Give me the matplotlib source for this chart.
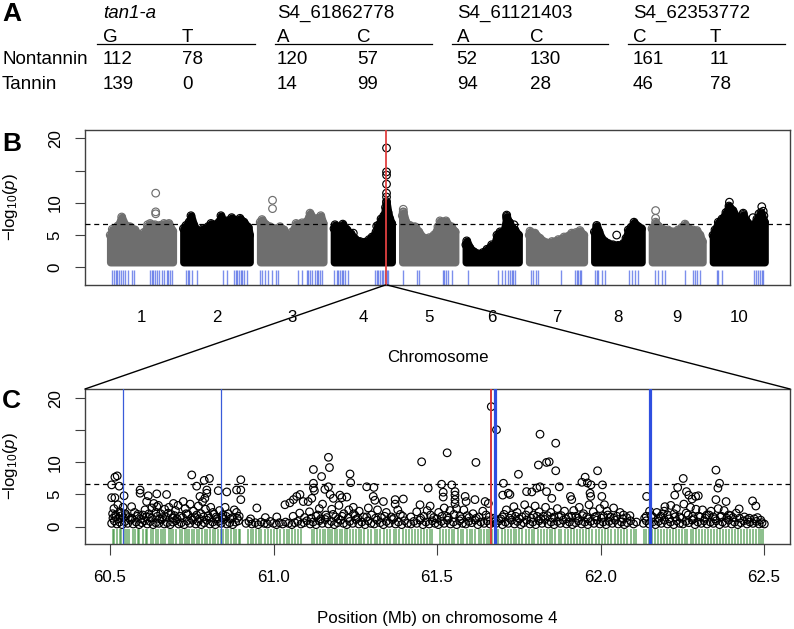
import numpy as np
import matplotlib
matplotlib.use('Agg')
import matplotlib.pyplot as plt
from matplotlib.lines import Line2D
from matplotlib.patches import ConnectionPatch

plt.rcParams['font.family'] = ['Liberation Sans', 'DejaVu Sans']
plt.rcParams['mathtext.fontset'] = 'custom'
plt.rcParams['mathtext.rm'] = 'Liberation Sans'
plt.rcParams['mathtext.it'] = 'Liberation Sans:italic'

# ---------------- Panel A data ----------------
snp_names = ['tan1-a', 'S4_61862778', 'S4_61121403', 'S4_62353772']
allele_1 = ['G', 'A', 'A', 'C']
allele_2 = ['T', 'C', 'C', 'T']
nontannin_1 = [112, 120, 52, 161]
nontannin_2 = [78, 57, 130, 11]
tannin_1 = [139, 14, 94, 46]
tannin_2 = [0, 99, 28, 78]
row_labels = ['Nontannin', 'Tannin']

# ---------------- Panel B data ----------------
chrom_names = ['1', '2', '3', '4', '5', '6', '7', '8', '9', '10']
chrom_len = [73.8, 77.9, 74.4, 68.0, 62.4, 62.2, 64.3, 55.5, 59.4, 60.9]
p_floor = 0.8
threshold = 6.7
candidate_chr4 = 61.67

env1_x = [0.3, 2.7, 6.0, 9.0, 13.7, 17.6, 23.4, 29.3, 33.0, 36.0, 39.5, 44.0, 47.0, 52.7, 58.5, 63.2, 69.0, 73.5]
env1_y = [5.0, 5.9, 5.2, 6.4, 7.8, 6.6, 6.3, 5.8, 5.0, 4.6, 5.4, 6.3, 6.8, 6.6, 6.5, 6.8, 6.8, 5.6]
env2_x = [0.2, 3.2, 6.7, 9.0, 12.5, 17.2, 23.1, 28.9, 32.4, 37.1, 41.8, 44.1, 47.7, 51.2, 56.7, 61.8, 66.4, 71.1, 76.1, 77.6]
env2_y = [6.0, 6.5, 7.0, 8.0, 6.5, 5.5, 6.0, 6.3, 6.8, 6.6, 7.0, 8.0, 7.0, 7.2, 7.7, 7.2, 7.6, 7.0, 6.2, 5.0]
env3_x = [0.2, 2.3, 7.0, 11.7, 18.7, 23.4, 28.1, 32.8, 37.5, 42.2, 49.2, 53.9, 58.5, 63.2, 67.9, 71.1, 74.0]
env3_y = [7.0, 7.4, 6.6, 6.3, 6.0, 6.3, 5.8, 4.5, 5.5, 6.8, 6.9, 7.0, 8.4, 7.5, 7.6, 8.0, 6.8]
env4_x = [0.2, 1.4, 6.1, 10.5, 15.5, 20.1, 24.8, 30.7, 36.5, 41.2, 44.7, 49.4, 51.8, 55.3, 58.5, 60.5, 61.7, 63.5, 65.5, 67.7]
env4_y = [6.0, 6.6, 6.2, 6.7, 5.8, 5.2, 4.4, 4.0, 3.9, 4.3, 4.7, 5.5, 6.5, 7.5, 8.0, 9.3, 10.0, 8.5, 7.5, 6.8]
env5_x = [0.2, 1.3, 4.4, 9.1, 14.9, 19.6, 24.7, 31.7, 37.2, 41.9, 44.3, 51.3, 54.6, 57.8, 62.0]
env5_y = [8.0, 8.5, 7.0, 6.5, 6.3, 5.5, 4.6, 4.6, 5.0, 6.3, 7.2, 7.2, 6.5, 6.3, 5.5]
env6_x = [0.2, 1.2, 5.0, 9.7, 14.4, 20.3, 24.9, 30.4, 33.1, 36.6, 40.2, 44.8, 48.0, 50.6, 54.1, 57.6, 61.9]
env6_y = [3.5, 4.1, 3.0, 2.4, 2.1, 2.3, 2.8, 3.5, 3.3, 5.0, 5.5, 5.6, 7.9, 7.0, 6.2, 5.8, 5.0]
env7_x = [0.2, 1.1, 6.9, 12.8, 20.6, 26.8, 34.2, 40.9, 49.9, 54.9, 59.6, 64.1]
env7_y = [5.0, 5.6, 5.3, 4.5, 3.8, 4.0, 4.3, 4.7, 5.3, 5.4, 5.7, 5.0]
env8_x = [0.2, 2.9, 5.6, 8.7, 12.6, 16.5, 22.0, 27.9, 34.1, 37.2, 39.9, 43.1, 46.6, 51.6, 55.3]
env8_y = [5.5, 6.5, 5.5, 4.5, 4.0, 3.7, 3.5, 3.4, 3.7, 4.5, 5.8, 6.2, 7.0, 6.3, 6.0]
env9_x = [0.2, 4.4, 8.3, 13.0, 18.9, 24.7, 30.6, 35.2, 38.8, 43.4, 48.1, 52.8, 56.3, 59.2]
env9_y = [6.0, 7.0, 6.3, 5.9, 5.8, 5.5, 5.8, 6.2, 6.7, 6.0, 5.8, 5.7, 5.0, 4.0]
env10_x = [0.2, 2.5, 6.4, 10.7, 15.3, 18.9, 23.5, 27.9, 31.7, 35.6, 40.0, 43.4, 47.0, 51.6, 56.3, 60.5]
env10_y = [5.0, 5.8, 7.0, 7.5, 8.5, 9.5, 8.8, 7.8, 7.5, 8.2, 7.0, 6.2, 6.5, 7.5, 8.5, 7.0]

out1 = ([53.5, 53.5, 53.5, 13.7, 44.0], [11.5, 8.6, 8.3, 7.2, 6.6])
out2 = ([9.0, 44.1, 56.7], [7.4, 7.3, 7.1])
out3 = ([14.6, 14.6, 58.5, 71.1], [10.4, 9.1, 7.9, 7.5])
out4 = ([61.7, 61.7, 61.7, 61.7, 61.7, 61.7, 61.7, 22.8, 50.2, 1.4], [18.5, 14.8, 14.3, 12.9, 11.5, 10.9, 10.2, 5.3, 6.4, 6.0])
out5 = ([1.3, 1.3, 16.0, 44.3, 51.3], [9.0, 8.6, 6.2, 6.7, 6.7])
out6 = ([48.0, 48.0, 51.6, 56.6, 1.2], [8.1, 7.6, 6.9, 6.6, 3.6])
out7 = ([1.1, 59.6], [5.1, 5.2])
out8 = ([2.9, 2.9, 26.3, 46.6], [6.1, 5.7, 5.0, 6.5])
out9 = ([4.4, 4.4, 38.8], [8.8, 7.6, 6.3])
out10 = ([19.4, 19.4, 35.6, 47.0, 54.0, 57.3, 59.0, 59.8], [10.1, 9.3, 8.4, 7.7, 8.3, 9.4, 8.7, 8.0])

rug1 = [2.7, 4.7, 6.7, 8.5, 10.9, 12.9, 15.6, 17.6, 20.7, 25.4, 28.1, 46.8, 48.8, 50.7, 52.7, 54.7, 57.4, 60.5, 63.6, 66.4, 68.3, 70.3, 72.9]
rug2 = [3.2, 5.2, 7.0, 9.8, 15.7, 46.8, 50.8, 59.4, 61.4, 63.2, 65.2, 67.2, 69.1, 71.4, 74.2]
rug3 = [0.5, 2.3, 5.9, 9.4, 14.1, 18.7, 21.1, 44.8, 48.8, 54.7, 56.6, 58.5, 60.5, 64.4, 66.4, 68.3, 70.3, 72.9]
rug4 = [0.2, 3.4, 5.3, 7.3, 9.3, 11.1, 13.1, 17.0, 48.2, 50.2, 52.1, 54.0, 56.0, 57.9, 59.9, 61.8, 63.8]
rug5 = [1.3, 17.7, 20.0, 47.4, 48.9, 51.3, 54.0, 58.0]
rug6 = [3.0, 38.2, 42.2, 46.0, 49.9, 51.9, 53.9, 55.7, 57.7]
rug7 = [1.9, 4.9, 8.1, 10.8, 37.4, 53.7, 55.7, 57.6, 59.6, 60.8]
rug8 = [0.9, 2.9, 4.8, 8.8, 12.6, 40.7, 43.9, 47.8, 51.6]
rug9 = [3.6, 7.5, 11.5, 15.3, 38.8, 48.5, 50.5, 52.5, 56.3]
rug10 = [4.4, 6.3, 10.3, 48.5, 50.5, 52.5, 55.2, 57.1, 59.0]

# ---------------- Panel C data ----------------
c_xticks = [60.5, 61.0, 61.5, 62.0, 62.5]
c_blue_thin = [60.541, 60.838]
c_blue_thick = [61.678, 62.150]
c_red = [61.665]

c_high = [(60.505, 6.5), (60.515, 7.7), (60.522, 7.9), (60.528, 6.3), (60.505, 4.5), (60.515, 4.5),
          (60.543, 4.8), (60.566, 3.1), (60.592, 5.7), (60.592, 5.2), (60.617, 4.8), (60.643, 5.1),
          (60.673, 5.0), (60.612, 3.9), (60.643, 3.1), (60.694, 3.6), (60.724, 3.9), (60.750, 8.05),
          (60.765, 6.3), (60.788, 7.2), (60.804, 7.5), (60.796, 5.7), (60.796, 5.2), (60.775, 4.7),
          (60.790, 4.4), (60.831, 5.6), (60.857, 5.4), (60.887, 5.7), (60.900, 5.7), (60.900, 7.3),
          (60.900, 4.2), (60.887, 2.2), (60.949, 2.9), (61.010, 1.5), (61.035, 3.4), (61.050, 3.7),
          (61.061, 4.2), (61.071, 4.7), (61.081, 5.0), (61.091, 3.9), (61.106, 3.9), (61.117, 4.4),
          (61.122, 8.9), (61.122, 6.75), (61.122, 6.0), (61.125, 5.6), (61.168, 10.8), (61.171, 9.2),
          (61.147, 7.8), (61.168, 6.2), (61.157, 5.8), (61.173, 5.0), (61.183, 4.4), (61.203, 4.9),
          (61.209, 4.5), (61.224, 4.6), (61.234, 8.2), (61.236, 6.85), (61.244, 3.0), (61.285, 6.2),
          (61.307, 6.1), (61.305, 4.7), (61.310, 4.1), (61.336, 3.9), (61.372, 4.2), (61.372, 3.5),
          (61.397, 4.3), (61.453, 10.1), (61.473, 6.0), (61.448, 3.4), (61.479, 3.2), (61.514, 6.6),
          (61.519, 5.35), (61.519, 4.6), (61.531, 11.5), (61.545, 6.5), (61.555, 5.45), (61.555, 4.9),
          (61.555, 4.2), (61.555, 3.6), (61.586, 4.7), (61.589, 3.9), (61.616, 4.2), (61.619, 10.0),
          (61.647, 3.9), (61.657, 3.6), (61.666, 18.7), (61.682, 15.1), (61.703, 6.75), (61.701, 4.9),
          (61.718, 5.2), (61.723, 5.0), (61.749, 8.15), (61.774, 5.45), (61.790, 5.4), (61.810, 9.6),
          (61.815, 14.4), (61.835, 10.0), (61.843, 10.1), (61.863, 13.0), (61.863, 8.7), (61.815, 6.2),
          (61.805, 6.0), (61.835, 5.45), (61.851, 4.4), (61.874, 6.2), (61.908, 4.7), (61.912, 4.2),
          (61.943, 6.9), (61.953, 7.7), (61.960, 6.8), (61.971, 6.5), (61.991, 8.7), (62.006, 6.5),
          (61.968, 5.2), (61.970, 4.7), (62.004, 4.7), (62.012, 3.4), (62.040, 2.9), (62.070, 1.8),
          (62.141, 4.7), (62.197, 3.1), (62.227, 4.9), (62.236, 6.1), (62.253, 7.5), (62.263, 5.45),
          (62.270, 4.9), (62.280, 4.3), (62.291, 4.7), (62.299, 4.8), (62.353, 8.8), (62.364, 6.75),
          (62.359, 6.0), (62.353, 4.2), (62.384, 3.9), (62.424, 2.75), (62.465, 4.0), (62.475, 3.2),
          (62.501, 0.4)]

c_mid = [(60.508, 2.0), (60.512, 2.8), (60.518, 1.5), (60.524, 3.4), (60.530, 2.3), (60.536, 1.7),
         (60.540, 3.0), (60.547, 2.0), (60.556, 1.4), (60.575, 2.2), (60.583, 1.6), (60.600, 1.8),
         (60.607, 2.6), (60.620, 1.5), (60.628, 2.9), (60.634, 3.6), (60.640, 2.2), (60.648, 3.3),
         (60.655, 2.0), (60.661, 1.4), (60.667, 2.7), (60.680, 3.0), (60.687, 1.9), (60.700, 2.5),
         (60.708, 3.3), (60.715, 1.6), (60.730, 2.8), (60.738, 1.9), (60.745, 3.5), (60.755, 2.4),
         (60.760, 1.5), (60.770, 3.2), (60.778, 2.0), (60.783, 3.9), (60.792, 2.7), (60.800, 1.7),
         (60.808, 3.0), (60.815, 2.2), (60.825, 1.5), (60.835, 2.5), (60.845, 1.8), (60.852, 3.0),
         (60.862, 2.0), (60.875, 1.4), (60.880, 2.6), (60.895, 1.6),
         (60.930, 1.2), (60.975, 1.4), (61.060, 1.6), (61.080, 2.1), (61.095, 1.4), (61.110, 2.3),
         (61.130, 1.6), (61.140, 2.8), (61.150, 3.5), (61.160, 1.8), (61.178, 2.7), (61.190, 1.5),
         (61.200, 3.3), (61.215, 2.0), (61.230, 2.6), (61.250, 1.7), (61.262, 2.4), (61.275, 1.5),
         (61.290, 2.9), (61.300, 1.8), (61.318, 2.6), (61.330, 1.4), (61.345, 2.2), (61.360, 1.5),
         (61.380, 2.6), (61.395, 1.6),
         (61.420, 1.5), (61.438, 2.3), (61.460, 1.6), (61.470, 2.5), (61.490, 1.4), (61.505, 2.2),
         (61.522, 2.9), (61.530, 1.6), (61.540, 2.5), (61.560, 2.8), (61.570, 1.6), (61.582, 2.6),
         (61.598, 1.4), (61.610, 2.0), (61.628, 1.5), (61.640, 2.4), (61.660, 1.5),
         (61.700, 1.5), (61.712, 2.6), (61.728, 1.8), (61.735, 3.1), (61.745, 2.2), (61.760, 1.5),
         (61.768, 3.4), (61.780, 2.5), (61.795, 1.8), (61.800, 3.2), (61.812, 2.3), (61.825, 1.6),
         (61.832, 3.0), (61.848, 2.2), (61.858, 1.5), (61.868, 2.8), (61.880, 1.7), (61.890, 2.4),
         (61.902, 1.5), (61.918, 2.5), (61.925, 1.6), (61.935, 3.0), (61.948, 2.0), (61.958, 1.5),
         (61.965, 3.4), (61.978, 2.3), (61.988, 1.6), (61.998, 2.8), (62.010, 1.6), (62.020, 2.4),
         (62.030, 1.5), (62.050, 1.6), (62.060, 2.2), (62.080, 1.4), (62.090, 1.7),
         (62.140, 1.6), (62.150, 2.4), (62.160, 1.5), (62.172, 2.2), (62.185, 1.6), (62.195, 2.4),
         (62.205, 1.8), (62.215, 3.3), (62.225, 2.0), (62.232, 2.8), (62.242, 1.5), (62.255, 3.5),
         (62.262, 2.1), (62.275, 3.0), (62.282, 1.6), (62.292, 2.7), (62.305, 1.5), (62.312, 2.6),
         (62.325, 1.8), (62.338, 2.4), (62.345, 1.5), (62.360, 2.8), (62.370, 1.6), (62.378, 2.5),
         (62.392, 1.8), (62.405, 1.4), (62.415, 2.1), (62.440, 1.5), (62.455, 1.3), (62.480, 1.4)]

c_low_1 = [(60.505, 0.5), (60.513, 0.9), (60.521, 0.4), (60.529, 0.7), (60.537, 0.3), (60.546, 0.8),
           (60.554, 0.5), (60.563, 1.0), (60.571, 0.4), (60.580, 0.7), (60.589, 0.3), (60.597, 0.6),
           (60.606, 0.9), (60.614, 0.4), (60.623, 0.8), (60.632, 0.3), (60.640, 0.6), (60.649, 0.5),
           (60.658, 1.1), (60.666, 0.4), (60.675, 0.6), (60.684, 0.3), (60.692, 0.7), (60.701, 0.9),
           (60.710, 0.4), (60.718, 0.6), (60.727, 0.3), (60.736, 0.9), (60.744, 0.5), (60.753, 1.0),
           (60.762, 0.4), (60.770, 0.8), (60.779, 0.3), (60.788, 0.6), (60.796, 1.0), (60.805, 0.4),
           (60.814, 0.7), (60.822, 0.3), (60.831, 0.8), (60.840, 0.5), (60.848, 1.1), (60.857, 0.4),
           (60.866, 0.6), (60.875, 0.3), (60.884, 0.7), (60.893, 0.9)]
c_low_2 = [(60.916, 0.5), (60.925, 0.8), (60.934, 0.4), (60.944, 0.6), (60.953, 0.3), (60.962, 0.7),
           (60.972, 0.5), (60.981, 0.4), (60.990, 0.8), (61.000, 0.5), (61.009, 0.3), (61.018, 0.6),
           (61.028, 0.4), (61.037, 0.7), (61.046, 0.5), (61.056, 0.3), (61.065, 0.6), (61.074, 0.8),
           (61.084, 0.4), (61.093, 0.6), (61.102, 0.9), (61.112, 0.4), (61.121, 0.7), (61.130, 0.3),
           (61.140, 0.9), (61.149, 0.5), (61.158, 1.1), (61.168, 0.4), (61.177, 0.8), (61.186, 0.3),
           (61.196, 0.6), (61.205, 1.0), (61.214, 0.5), (61.224, 0.3), (61.233, 0.8), (61.242, 0.5),
           (61.252, 1.1), (61.261, 0.4), (61.270, 0.7), (61.280, 0.3), (61.289, 0.9), (61.298, 0.5),
           (61.308, 0.4), (61.317, 1.0), (61.326, 0.6), (61.336, 0.3), (61.345, 0.8), (61.354, 0.5),
           (61.364, 1.1), (61.373, 0.4), (61.382, 0.7), (61.392, 0.3), (61.401, 0.9), (61.410, 0.5),
           (61.420, 0.4), (61.429, 0.8), (61.438, 0.5), (61.448, 1.0), (61.457, 0.3), (61.466, 0.7),
           (61.476, 0.4), (61.485, 0.9), (61.494, 0.5), (61.504, 0.3), (61.513, 0.8), (61.522, 0.5),
           (61.532, 1.0), (61.541, 0.4), (61.550, 0.7), (61.560, 0.3), (61.569, 0.9), (61.578, 0.5),
           (61.588, 0.4), (61.597, 0.8), (61.606, 0.6), (61.616, 1.0), (61.625, 0.3), (61.634, 0.7),
           (61.644, 0.5), (61.653, 0.9), (61.662, 0.4), (61.672, 0.7), (61.681, 0.5), (61.690, 0.9),
           (61.700, 0.3), (61.709, 0.7), (61.718, 0.5), (61.728, 1.0), (61.737, 0.4), (61.746, 0.8),
           (61.756, 0.3), (61.765, 0.6), (61.774, 1.0), (61.784, 0.4), (61.793, 0.7), (61.802, 0.3),
           (61.812, 0.9), (61.821, 0.5), (61.830, 1.1), (61.840, 0.4), (61.849, 0.7), (61.858, 0.3),
           (61.868, 0.8), (61.877, 0.5), (61.886, 1.0), (61.896, 0.4), (61.905, 0.7), (61.914, 0.3),
           (61.924, 0.6), (61.933, 0.9), (61.942, 0.4), (61.952, 0.7), (61.961, 0.3), (61.970, 0.8),
           (61.980, 0.5), (61.989, 1.0), (61.998, 0.4), (62.008, 0.7), (62.017, 0.3), (62.026, 0.8),
           (62.036, 0.5), (62.045, 1.0), (62.054, 0.4), (62.064, 0.7), (62.073, 0.3), (62.082, 0.6),
           (62.092, 0.9), (62.101, 0.4), (62.110, 0.7)]
c_low_3 = [(62.131, 0.5), (62.140, 0.9), (62.149, 0.4), (62.159, 0.7), (62.168, 0.3), (62.177, 0.8),
           (62.186, 0.5), (62.196, 1.0), (62.205, 0.4), (62.214, 0.7), (62.224, 0.3), (62.233, 0.9),
           (62.242, 0.5), (62.252, 0.4), (62.261, 0.8), (62.270, 0.6), (62.280, 1.0), (62.289, 0.3),
           (62.298, 0.7), (62.308, 0.5), (62.317, 0.9), (62.326, 0.4), (62.336, 0.7), (62.345, 0.5),
           (62.354, 0.9), (62.364, 0.3), (62.373, 0.7), (62.382, 0.5), (62.392, 1.0), (62.401, 0.4),
           (62.410, 0.7), (62.420, 0.3), (62.429, 0.6), (62.438, 0.9), (62.448, 0.4), (62.457, 0.7),
           (62.466, 0.5), (62.476, 0.8), (62.485, 0.4), (62.494, 0.6)]
c_low_4 = [(60.509, 1.3), (60.517, 1.8), (60.526, 1.2), (60.533, 2.1), (60.541, 1.4), (60.550, 1.7),
           (60.567, 1.3), (60.585, 1.9), (60.594, 1.2), (60.611, 1.5), (60.619, 2.0), (60.627, 1.3),
           (60.645, 1.6), (60.652, 1.2), (60.671, 1.5), (60.678, 2.1), (60.690, 1.3), (60.697, 1.7),
           (60.705, 1.2), (60.722, 1.4), (60.733, 2.0), (60.749, 1.3), (60.765, 1.8), (60.773, 1.2),
           (60.786, 1.5), (60.803, 1.3), (60.818, 1.9), (60.828, 1.2), (60.843, 1.4), (60.855, 1.6),
           (60.868, 1.2), (60.889, 1.3),
           (61.115, 1.3), (61.135, 1.8), (61.145, 1.2), (61.163, 1.4), (61.182, 1.9), (61.198, 1.2),
           (61.210, 1.6), (61.228, 1.3), (61.245, 2.0), (61.258, 1.3), (61.285, 1.5), (61.312, 1.3),
           (61.340, 1.6), (61.368, 1.3), (61.388, 1.9),
           (61.450, 1.3), (61.480, 1.8), (61.500, 1.2), (61.515, 1.6), (61.535, 1.3), (61.552, 1.9),
           (61.575, 1.2), (61.592, 1.7), (61.620, 1.3), (61.650, 1.8), (61.675, 1.3), (61.695, 1.2),
           (61.705, 1.9), (61.722, 1.3), (61.740, 1.6), (61.752, 1.2), (61.772, 1.8), (61.788, 1.3),
           (61.806, 1.6), (61.818, 1.2), (61.838, 1.7), (61.853, 1.3), (61.872, 1.5), (61.895, 1.2),
           (61.912, 1.6), (61.930, 1.3), (61.945, 1.7), (61.962, 1.2), (61.983, 1.5), (62.003, 1.3),
           (62.022, 1.8), (62.040, 1.3), (62.068, 1.2),
           (62.135, 1.3), (62.155, 1.7), (62.178, 1.3), (62.190, 1.9), (62.210, 1.2), (62.228, 1.5),
           (62.248, 1.3), (62.268, 1.8), (62.285, 1.2), (62.300, 1.6), (62.320, 1.3), (62.332, 1.8),
           (62.350, 1.2), (62.366, 1.5), (62.386, 1.3), (62.398, 1.7), (62.425, 1.3), (62.450, 1.1),
           (62.470, 1.2), (62.490, 1.0)]

c_rug = [60.508, 60.513, 60.521, 60.530, 60.534, 60.545, 60.551, 60.558, 60.570, 60.576, 60.585, 60.590,
         60.602, 60.609, 60.613, 60.625, 60.631, 60.640, 60.647, 60.655, 60.663, 60.668, 60.680, 60.688,
         60.694, 60.702, 60.713, 60.719, 60.728, 60.735, 60.742, 60.752, 60.758, 60.766, 60.773, 60.781,
         60.790, 60.797, 60.806, 60.814, 60.820, 60.829, 60.840, 60.846, 60.855, 60.861, 60.870, 60.878,
         60.885, 60.893, 60.899,
         60.922, 60.930, 60.937, 60.946, 60.956, 60.962, 60.975, 60.983, 60.992, 61.001, 61.012, 61.020,
         61.031, 61.040, 61.047, 61.058, 61.066, 61.075, 61.083,
         61.118, 61.125, 61.134, 61.142, 61.150, 61.157, 61.166, 61.172, 61.180, 61.188, 61.195, 61.203,
         61.210, 61.219, 61.226, 61.235, 61.242, 61.251, 61.260, 61.268, 61.277, 61.290, 61.298, 61.309,
         61.318, 61.327, 61.339, 61.348, 61.356, 61.367, 61.376, 61.385, 61.396, 61.404, 61.413, 61.425,
         61.433, 61.441, 61.452, 61.460, 61.469, 61.478, 61.484,
         61.510, 61.518, 61.526, 61.537, 61.545, 61.553, 61.563, 61.572, 61.580, 61.591, 61.600, 61.608,
         61.617, 61.627, 61.636, 61.645, 61.652, 61.660, 61.668, 61.676, 61.688, 61.698, 61.707, 61.716,
         61.726, 61.735, 61.743, 61.752, 61.761, 61.772, 61.781, 61.789, 61.798, 61.808, 61.817, 61.826,
         61.835, 61.845, 61.853, 61.861, 61.872, 61.880, 61.890, 61.900, 61.910, 61.918, 61.928, 61.937,
         61.947, 61.957, 61.966, 61.975, 61.985, 61.995, 62.005, 62.013, 62.024, 62.033, 62.043, 62.054,
         62.063, 62.072, 62.082, 62.092, 62.101, 62.110,
         62.132, 62.139, 62.147, 62.156, 62.166, 62.175, 62.184, 62.193, 62.203, 62.212, 62.221, 62.230,
         62.240, 62.248, 62.257, 62.266, 62.276, 62.284, 62.293, 62.302, 62.311, 62.320, 62.330, 62.339,
         62.348, 62.356, 62.365, 62.374, 62.383, 62.393, 62.402, 62.411, 62.420, 62.430, 62.438, 62.447,
         62.456, 62.465, 62.474, 62.484, 62.492, 62.497]

# ---------------- figure ----------------
W, H = 794, 629
fig = plt.figure(figsize=(W / 100, H / 100), dpi=100)


def fx(px):
    return px / W


def fy(py):
    return 1 - py / H


TXT = 12.2
TAB = 13.5
SPINE = '#404040'
MS = 30
MLW = 0.85

# ---- Panel A (table) ----
fig.text(fx(2), fy(21), 'A', fontsize=19, fontweight='bold', va='baseline', ha='left')
col_left = [103, 277, 456.7, 633]
col_right = [182, 357, 530, 710]
line_l = [97, 275, 451.7, 628]
line_r = [255, 432, 608, 785]
for i in range(4):
    fig.text(fx(col_left[i]), fy(18), snp_names[i], fontsize=TAB, va='baseline', ha='left',
             fontstyle='italic' if i == 0 else 'normal')
    fig.text(fx(col_left[i]), fy(41.5), allele_1[i], fontsize=TAB, va='baseline', ha='left')
    fig.text(fx(col_right[i]), fy(41.5), allele_2[i], fontsize=TAB, va='baseline', ha='left')
    fig.add_artist(Line2D([fx(line_l[i]), fx(line_r[i])], [fy(44), fy(44)],
                          transform=fig.transFigure, color='black', lw=0.9))
    fig.text(fx(col_left[i]), fy(64.3), str(nontannin_1[i]), fontsize=TAB, va='baseline', ha='left')
    fig.text(fx(col_right[i]), fy(64.3), str(nontannin_2[i]), fontsize=TAB, va='baseline', ha='left')
    fig.text(fx(col_left[i]), fy(89.3), str(tannin_1[i]), fontsize=TAB, va='baseline', ha='left')
    fig.text(fx(col_right[i]), fy(89.3), str(tannin_2[i]), fontsize=TAB, va='baseline', ha='left')
fig.text(fx(2), fy(64.3), row_labels[0], fontsize=TAB, va='baseline', ha='left')
fig.text(fx(2), fy(89.3), row_labels[1], fontsize=TAB, va='baseline', ha='left')


def style_axes(ax):
    for s in ax.spines.values():
        s.set_color(SPINE)
        s.set_linewidth(1.0)
    ax.set_yticks([0, 5, 10, 15, 20])
    ax.set_yticklabels(['0', '5', '10', '', '20'], rotation=90, va='center')
    ax.tick_params(axis='y', length=7, width=0.8, pad=9, labelsize=TXT, color=SPINE, direction='out')


# ---- Panel B ----
axB = fig.add_axes([fx(85), fy(285), fx(790) - fx(85), (285 - 130) / H])
gap = 12.0
starts = np.concatenate([[0], np.cumsum(np.array(chrom_len) + gap)[:-1]])
envs = [(env1_x, env1_y), (env2_x, env2_y), (env3_x, env3_y), (env4_x, env4_y), (env5_x, env5_y),
        (env6_x, env6_y), (env7_x, env7_y), (env8_x, env8_y), (env9_x, env9_y), (env10_x, env10_y)]
outs = [out1, out2, out3, out4, out5, out6, out7, out8, out9, out10]
rugs = [rug1, rug2, rug3, rug4, rug5, rug6, rug7, rug8, rug9, rug10]
yB = (-2.74, 21.29)
for i in range(10):
    col = '#6e6e6e' if i % 2 == 0 else '#000000'
    ex = starts[i] + np.array(envs[i][0])
    ey = np.array(envs[i][1])
    pc = axB.fill_between(ex, p_floor, ey, facecolor=col, edgecolor=col, linewidth=5.5, zorder=2)
    pc.set_joinstyle('round')
    axB.scatter(ex, ey, s=MS, facecolors='none', edgecolors=col, linewidths=MLW, zorder=3)
    ox = starts[i] + np.array(outs[i][0], dtype=float)
    axB.scatter(ox, outs[i][1], s=MS, facecolors='none', edgecolors=col, linewidths=MLW, zorder=3)
    axB.vlines(starts[i] + np.array(rugs[i]), yB[0], -0.35, colors='#2545e0', alpha=0.6, lw=1.0, zorder=2)
axB.axhline(threshold, color='black', ls=(0, (4, 3)), lw=0.9, zorder=4)
axB.axvline(starts[3] + candidate_chr4, color='#e04040', lw=1.3, zorder=5)
xB = (-(110 - 85) / 0.854, (790 - 110) / 0.854)
axB.set_xlim(*xB)
axB.set_ylim(*yB)
axB.set_xticks(starts + np.array(chrom_len) / 2)
axB.set_xticklabels(chrom_names)
axB.tick_params(axis='x', length=0, pad=18, labelsize=TXT)
style_axes(axB)
fig.text(fx(2), fy(151), 'B', fontsize=19, fontweight='bold', va='baseline', ha='left')
fig.text(fx(437.5), fy(358), 'Chromosome', fontsize=TXT, ha='center', va='center')
fig.text(fx(11), fy(207.5), r'$-\mathrm{log}_{10}(\mathit{p})$', fontsize=TXT, rotation=90,
         ha='center', va='center')

# ---- Panel C ----
axC = fig.add_axes([fx(85), fy(544), fx(790) - fx(85), (544 - 389) / H])
yC = (-2.72, 21.45)
xC = (60.4235, 62.5795)
for seg in (c_low_1, c_low_2, c_low_3, c_low_4, c_mid, c_high):
    sx, sy = zip(*seg)
    axC.scatter(sx, sy, s=MS, facecolors='none', edgecolors='black', linewidths=MLW, zorder=3)
axC.vlines(c_rug, yC[0], -0.4, colors='#2e8b2e', alpha=0.7, lw=1.1, zorder=2)
axC.axhline(threshold, color='black', ls=(0, (4, 3)), lw=0.9, zorder=4)
for xv in c_blue_thin:
    axC.axvline(xv, color='#3a5bd9', lw=0.9, zorder=5)
for xv in c_red:
    axC.axvline(xv, color='#d9383a', lw=1.4, zorder=5)
for xv in c_blue_thick:
    axC.axvline(xv, color='#2f4fe0', lw=2.3, zorder=5)
axC.set_xlim(*xC)
axC.set_ylim(*yC)
axC.set_xticks(c_xticks)
axC.set_xticklabels(['%.1f' % v for v in c_xticks])
axC.tick_params(axis='x', length=8, width=0.8, pad=11, labelsize=TXT, color=SPINE, direction='out')
style_axes(axC)
fig.text(fx(2), fy(408), 'C', fontsize=19, fontweight='bold', va='baseline', ha='left')
fig.text(fx(437.5), fy(618), 'Position (Mb) on chromosome 4', fontsize=TXT, ha='center', va='center')
fig.text(fx(11), fy(466.5), r'$-\mathrm{log}_{10}(\mathit{p})$', fontsize=TXT, rotation=90,
         ha='center', va='center')

# ---- connector lines from B to C ----
for xb, xc in ((60.42, xC[0]), (62.58, xC[1])):
    con = ConnectionPatch(xyA=(starts[3] + xb, yB[0]), coordsA=axB.transData,
                          xyB=(xc, yC[1]), coordsB=axC.transData, color='black', lw=1.0)
    fig.add_artist(con)

fig.savefig('out.png', dpi=100)
